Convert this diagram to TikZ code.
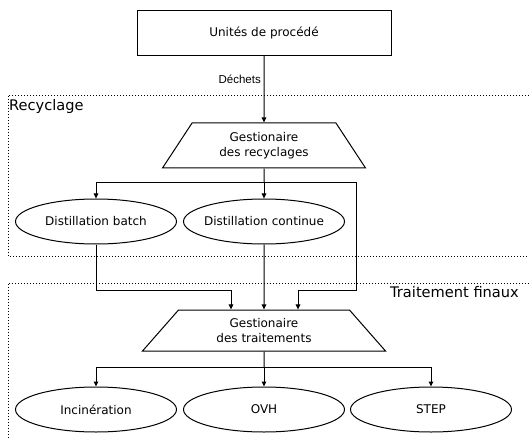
\documentclass[tikz,border=0pt]{standalone}
\usepackage{fontspec}
\setmainfont{DejaVu Sans}
\newfontfamily\labelfont{Liberation Sans}
\usetikzlibrary{positioning, arrows.meta, shapes.geometric}

% text of a fixed size ellipse (the shape does not grow with it)
\newcommand{\proctext}[1]{\makebox[0pt]{#1}}

\tikzset{
    unit/.style={draw, line width=1pt, rectangle, minimum width=254pt, minimum height=45pt},
    manager/.style={draw, line width=1pt, trapezium, trapezium stretches body,
        align=center, inner sep=0pt, minimum height=#1},
    process/.style={draw, line width=1pt, ellipse, minimum width=161pt, minimum height=45pt, inner sep=0pt},
    flow/.style={line width=1pt, -{Triangle[length=5pt, width=4.5pt]}},
    area/.style={line width=0.8pt, dash pattern=on 0.8pt off 2.2pt},
    areaname/.style={inner sep=0pt, font=\fontsize{14.6}{17}\selectfont}
}

\begin{document}
\begin{tikzpicture}[x=1pt, y=-1pt, font=\fontsize{12}{15}\selectfont]
    \useasboundingbox (0,0) rectangle (529,438);

    % Dotted areas
    \draw[area] (529,95) -- (8,95) -- (8,256) -- (529,256);
    \draw[area] (529,283) -- (8,283) -- (8,438);
    \node[areaname, anchor=base west] (recname) at (9,110.5) {Recyclage};
    \node[areaname, anchor=base east] (endname) at (519,297.5) {Traitement finaux};

    % Process units and managers
    \node[unit] (units) at (264,33) {Unités de procédé};
    \node[manager=45pt, minimum width=203pt, trapezium left angle=42, trapezium right angle=42]
        (gestrec) at (264,145.5) {Gestionaire\\des recyclages};
    \node[manager=41pt, minimum width=243pt, trapezium left angle=34, trapezium right angle=34]
        (gesttrait) at (264,330.5) {Gestionaire\\des traitements};

    % Recycling
    \node[process] (batch) at (96,221.5) {\proctext{Distillation batch}};
    \node[process] (cont) at (264,221.5) {\proctext{Distillation continue}};

    % Final treatments
    \node[process] (incin) at (96,409.5) {\proctext{Incinération}};
    \node[process] (ovh) at (264,409.5) {\proctext{OVH}};
    \node[process] (step1) at (431,409.5) {\proctext{STEP}};

    % Waste flow
    \draw[flow] (units) -- (gestrec);
    \node[anchor=base east, inner sep=0pt, font=\labelfont\fontsize{11.5}{14}\selectfont]
        (waste) at (261,84) {Déchets};

    \coordinate (split1) at (264,183);
    \draw[line width=1pt] (gestrec.south) -- (split1);
    \draw[flow] (split1) -| (batch.north);
    \draw[flow] (split1) -- (cont.north);
    \draw[flow] (split1) -- ++(92,0) -- ++(0,107) -| ([xshift=34pt]gesttrait.north);
    \draw[flow] (batch.south) -- ++(0,46) -| ([xshift=-33pt]gesttrait.north);
    \draw[flow] (cont.south) -- (gesttrait.north);

    \coordinate (split2) at (264,367);
    \draw[line width=1pt] (gesttrait.south) -- (split2);
    \draw[flow] (split2) -| (incin.north);
    \draw[flow] (split2) -- (ovh.north);
    \draw[flow] (split2) -| (step1.north);
\end{tikzpicture}
\end{document}
